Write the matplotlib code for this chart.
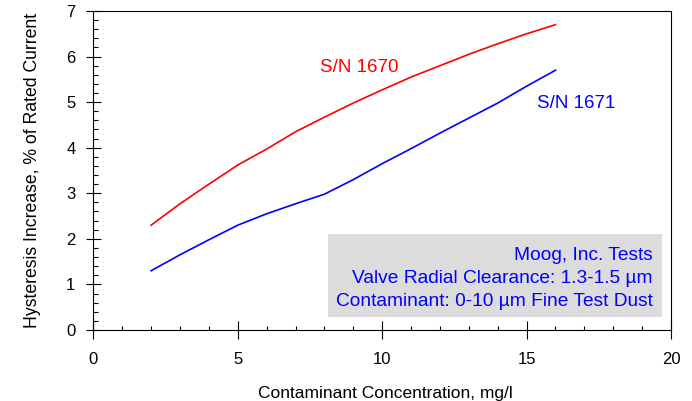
import numpy as np
import matplotlib
matplotlib.use("Agg")
import matplotlib.pyplot as plt
from matplotlib.ticker import MultipleLocator

plt.rcParams["font.family"] = ["Liberation Sans", "DejaVu Sans"]

# concentration, mg/l
conc = [2, 3, 4, 5, 6, 7, 8, 9, 10, 11, 12, 13, 14, 15, 16]
sn1670 = [2.30, 2.77, 3.20, 3.62, 3.97, 4.35, 4.67, 4.98, 5.27, 5.55, 5.80, 6.05, 6.28, 6.50, 6.70]
sn1671 = [1.30, 1.65, 1.98, 2.30, 2.55, 2.77, 2.98, 3.30, 3.65, 3.98, 4.32, 4.65, 4.98, 5.35, 5.70]
note_lines = ["Moog, Inc. Tests",
              "Valve Radial Clearance: 1.3-1.5 µm",
              "Contaminant: 0-10 µm Fine Test Dust"]

fig = plt.figure(figsize=(6.92, 4.01), dpi=100)
ax = fig.add_axes([0.1349, 0.1771, 0.8348, 0.7955])

ax.plot(conc, sn1670, color="#ff0000", lw=1.2)
ax.plot(conc, sn1671, color="#0000ff", lw=1.2)

ax.text(7.85, 5.75, "S/N 1670", color="#ff0000", fontsize=13.5, va="center", ha="left")
ax.text(15.35, 4.96, "S/N 1671", color="#0000ff", fontsize=13.5, va="center", ha="left")

# gray note box
ax.add_patch(plt.Rectangle((8.13, 0.29), 11.54, 1.81, facecolor="#dcdcdc", edgecolor="none", zorder=1))
for i, s in enumerate(note_lines):
    ax.text(19.36, 1.645 - i * 0.505, s, color="#0000ff", fontsize=13.8, ha="right", va="center", zorder=2)

ax.set_xlim(0, 20)
ax.set_ylim(0, 7)
ax.xaxis.set_major_locator(MultipleLocator(5))
ax.xaxis.set_minor_locator(MultipleLocator(1))
ax.yaxis.set_major_locator(MultipleLocator(1))
ax.yaxis.set_minor_locator(MultipleLocator(0.2))
ax.tick_params(axis="x", which="major", direction="inout", length=12.7, width=0.8, pad=9.5, labelsize=12)
ax.tick_params(axis="y", which="major", direction="inout", length=10.8, width=0.8, pad=7.5, labelsize=12)
ax.tick_params(axis="x", which="minor", direction="in", length=3, width=0.8)
ax.tick_params(axis="y", which="minor", direction="in", length=3.6, width=0.8)
for sp in ax.spines.values():
    sp.set_linewidth(0.8)

ax.set_xlabel("Contaminant Concentration, mg/l", fontsize=12.5, va="baseline")
ax.xaxis.set_label_coords(0.505, -0.214)
ax.set_ylabel("Hysteresis Increase, % of Rated Current", fontsize=12.7)
ax.yaxis.set_label_coords(-0.0905, 0.5)

fig.savefig("out.png", dpi=100)
